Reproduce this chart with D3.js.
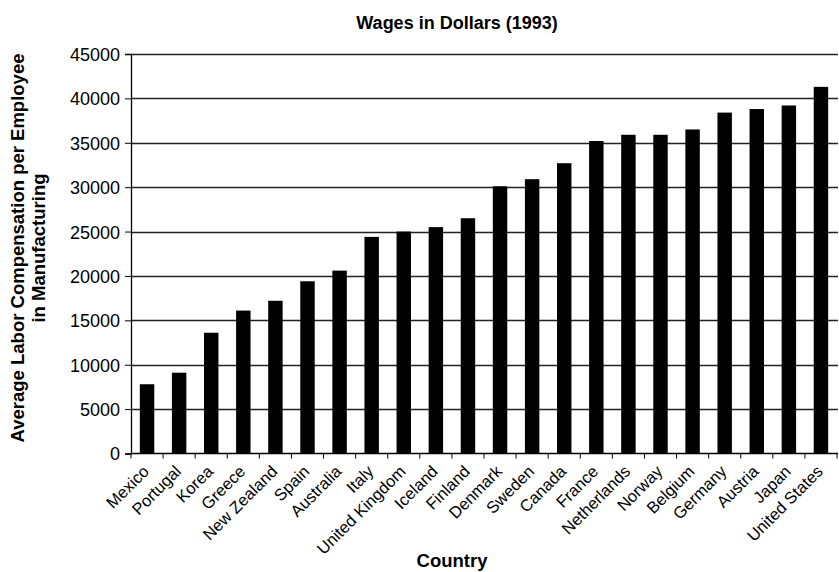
<!DOCTYPE html>
<html>
<head>
<meta charset="utf-8">
<script src="https://cdn.jsdelivr.net/npm/d3@7"></script>
<style>
  body { margin: 0; background: #fff; }
  svg text { font-family: Arial, "Liberation Sans", sans-serif; fill: #000; }
</style>
</head>
<body>
<div id="chart"></div>
<script>
// Дані з графіка
const countries = ["Mexico", "Portugal", "Korea", "Greece", "New Zealand", "Spain", "Australia", "Italy",
  "United Kingdom", "Iceland", "Finland", "Denmark", "Sweden", "Canada", "France", "Netherlands",
  "Norway", "Belgium", "Germany", "Austria", "Japan", "United States"];
const wages = [7800, 9100, 13600, 16100, 17200, 19400, 20600, 24400,
  25000, 25500, 26500, 30100, 30900, 32700, 35200, 35900,
  35900, 36500, 38400, 38800, 39200, 41300];
const yTicks = [0, 5000, 10000, 15000, 20000, 25000, 30000, 35000, 40000, 45000];

const W = 839, H = 572;
const plotL = 131, plotR = 838, plotT = 54, plotB = 453.5;

const svg = d3.select("#chart").append("svg").attr("width", W).attr("height", H);

const x = d3.scaleBand().domain(countries).range([plotL, plotR - 1]).padding(0);
const y = d3.scaleLinear().domain([0, 45000]).range([plotB, plotT]);

// Сітка
svg.append("g").selectAll("line").data(yTicks.filter(d => d > 0)).enter().append("line")
  .attr("x1", plotL).attr("x2", plotR)
  .attr("y1", d => Math.round(y(d)) + 0.5).attr("y2", d => Math.round(y(d)) + 0.5)
  .attr("stroke", "#222").attr("stroke-width", 1.3);

// Вісь Y
const yAxis = svg.append("g").attr("transform", `translate(${plotL},0)`)
  .call(d3.axisLeft(y).tickValues(yTicks).tickSize(6).tickPadding(5).tickFormat(d3.format("d")));
yAxis.select(".domain").attr("stroke", "#000").attr("stroke-width", 1.3);
yAxis.selectAll("line").attr("stroke", "#000");
yAxis.selectAll("text").style("font-size", "18px").attr("dy", "0.36em");

// Стовпці
const bw = x.bandwidth() * 0.45;
svg.append("g").selectAll("rect").data(countries).enter().append("rect")
  .attr("x", (d, i) => x(d) + (x.bandwidth() - bw) / 2)
  .attr("y", (d, i) => y(wages[i]))
  .attr("width", bw)
  .attr("height", (d, i) => y(0) - y(wages[i]))
  .attr("fill", "#000");

// Вісь X
svg.append("line").attr("x1", plotL).attr("x2", plotR).attr("y1", plotB).attr("y2", plotB)
  .attr("stroke", "#000").attr("stroke-width", 1.5);
const bounds = countries.map(c => x(c)).concat([x(countries[countries.length - 1]) + x.bandwidth()]);
svg.append("g").selectAll("line").data(bounds).enter().append("line")
  .attr("x1", d => d).attr("x2", d => d).attr("y1", plotB).attr("y2", plotB + 5)
  .attr("stroke", "#000");

svg.append("g").selectAll("text").data(countries).enter().append("text")
  .attr("transform", d => `translate(${x(d) + x.bandwidth() / 2 + 3},${plotB + 19}) rotate(-45)`)
  .attr("text-anchor", "end")
  .style("font-size", "16.5px")
  .text(d => d);

// Підписи
svg.append("text").attr("x", 457).attr("y", 29).attr("text-anchor", "middle")
  .style("font-size", "18px").style("font-weight", "bold").text("Wages in Dollars (1993)");
svg.append("text").attr("x", 452).attr("y", 567).attr("text-anchor", "middle")
  .style("font-size", "18.5px").style("font-weight", "bold").text("Country");

const yt = svg.append("text").attr("transform", `translate(24,248) rotate(-90)`)
  .attr("text-anchor", "middle").style("font-size", "18.5px").style("font-weight", "bold");
yt.append("tspan").attr("x", 0).attr("dy", 0).text("Average Labor Compensation per Employee");
yt.append("tspan").attr("x", 0).attr("dy", "1.12em").text("in Manufacturing");
</script>
</body>
</html>
